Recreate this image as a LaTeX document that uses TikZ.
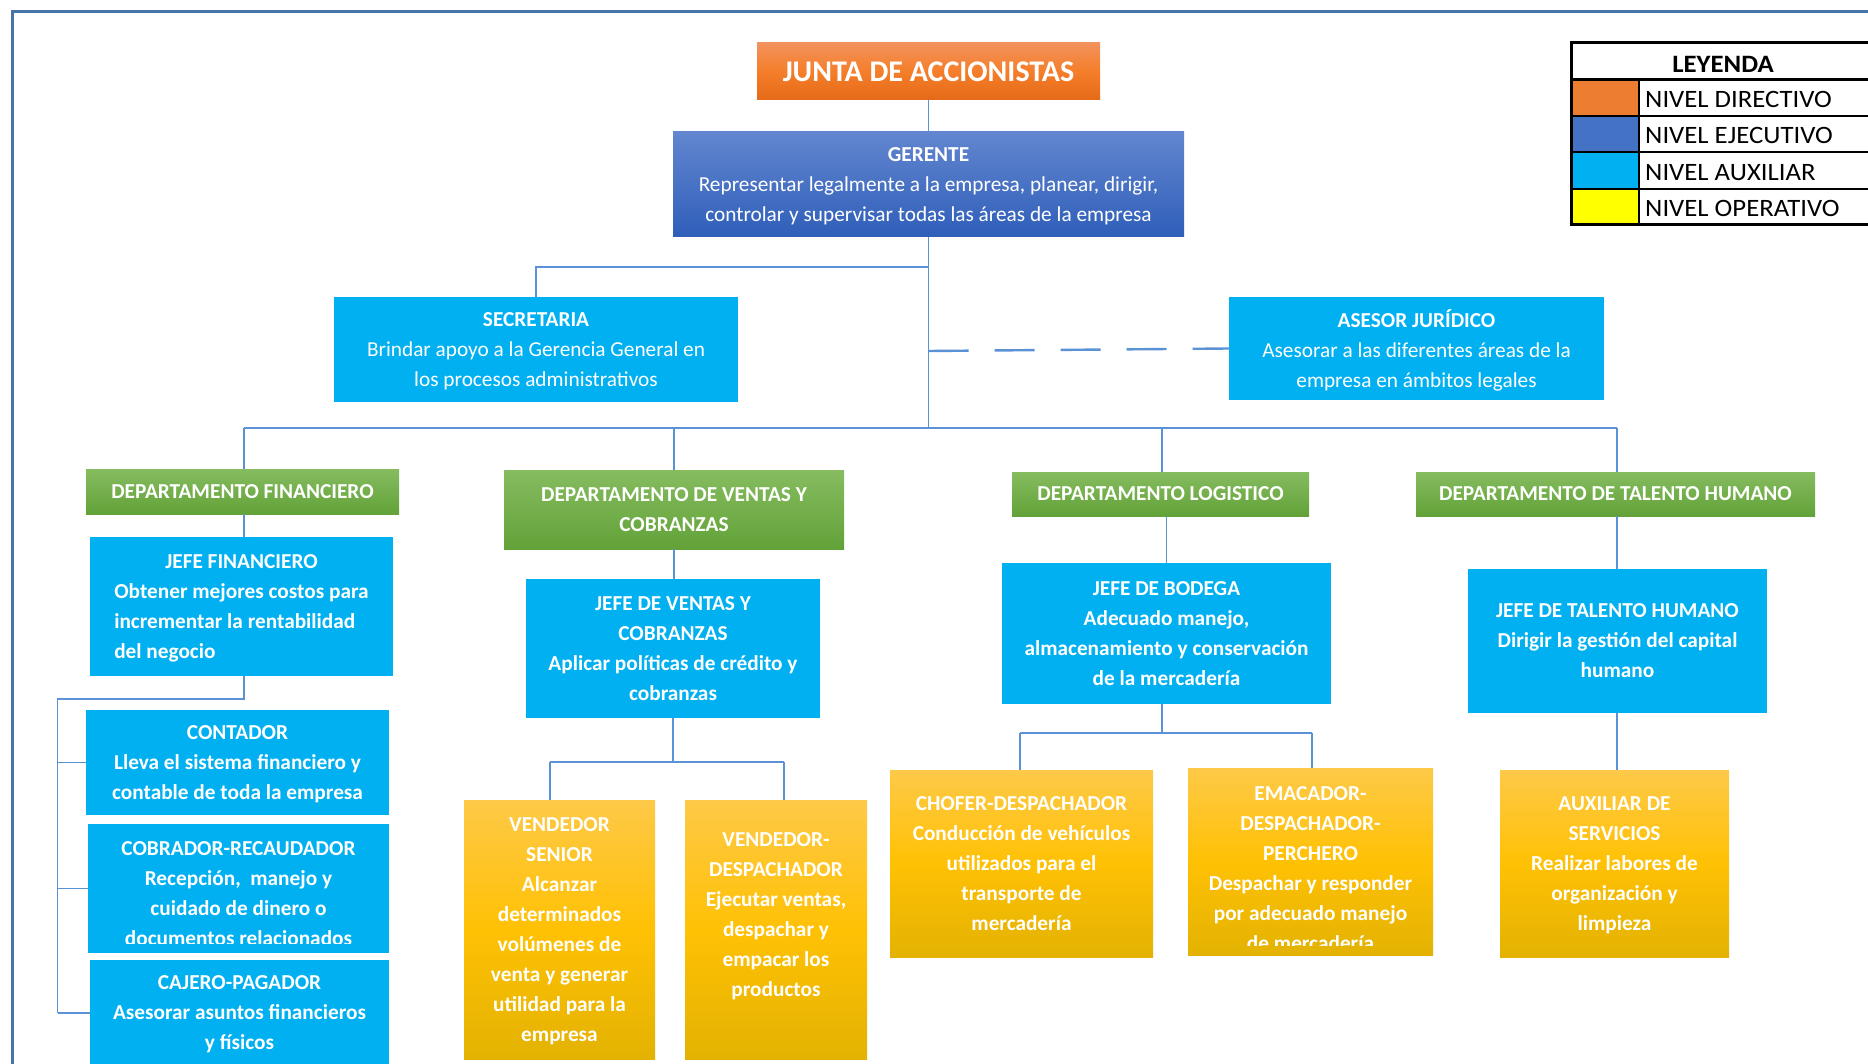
\documentclass[tikz,border=0pt]{standalone}
\usepackage{fontspec}
\setmainfont{Carlito}
\usetikzlibrary{calc}

% level colours
\definecolor{auxblue}{RGB}{0,176,240}
\definecolor{linkblue}{RGB}{91,146,214}
\definecolor{framecol}{RGB}{72,116,168}
\definecolor{orTop}{RGB}{242,146,92}
\definecolor{orMid}{RGB}{245,126,42}
\definecolor{orBot}{RGB}{228,106,24}
\definecolor{exTop}{RGB}{98,134,207}
\definecolor{exBot}{RGB}{47,94,185}
\definecolor{grTop}{RGB}{134,188,96}
\definecolor{grBot}{RGB}{98,162,56}
\definecolor{opTop}{RGB}{254,201,72}
\definecolor{opMid}{RGB}{255,193,4}
\definecolor{opBot}{RGB}{227,178,2}
\definecolor{legOrange}{RGB}{237,125,49}
\definecolor{legBlue}{RGB}{68,114,196}
\definecolor{legCyan}{RGB}{0,176,240}
\definecolor{legYellow}{RGB}{255,255,0}

\newcommand\fsbody{\fontsize{21.3}{30}\selectfont}
\newcommand\fslegend{\fontsize{25}{30}\selectfont}
\newcommand\legwide[1]{\scalebox{1.07}[1]{#1}}

\tikzset{
  box at/.style n args={4}{at={(#1,#2)}, minimum width={#3-#1}, minimum height={#4-#2}},
  orgbox/.style={anchor=north west, inner sep=0pt, outer sep=0pt, text=white,
                 align=center, text depth=0pt, font=\fsbody\bfseries},
  headbox/.style={orgbox, font=\fsbody},
  auxbox/.style={orgbox, fill=auxblue},
  deptbox/.style={orgbox, top color=grTop, bottom color=grBot},
  opbox/.style={orgbox, top color=opTop, bottom color=opBot, middle color=opMid},
  boxtext/.style={inner sep=0pt, text=white, align=center, font=\fsbody\bfseries},
  link/.style={draw=linkblue, line width=1.5pt},
  dashlink/.style={draw=linkblue, line width=2.4pt, dash pattern=on 40pt off 26pt},
  legtext/.style={anchor=west, inner sep=0pt, font=\fslegend},
}

\begin{document}
\begin{tikzpicture}[x=1pt,y=-1pt]
\useasboundingbox (0,0) rectangle (1868,1064);
\fill[white] (0,0) rectangle (1868,1064);

% page frame
\draw[framecol, line width=3pt] (1875,11.8) -- (12.5,11.8) -- (12.5,1075);

% ---- top levels
\node[orgbox, top color=orTop, bottom color=orBot, middle color=orMid,
      box at={757}{43}{1100}{100}, font=\fontsize{30}{36}\selectfont\bfseries]
      (junta) {JUNTA DE ACCIONISTAS};
\node[headbox, top color=exTop, bottom color=exBot, box at={673}{132}{1184}{237}] (gerente)
  {\textbf{GERENTE}\\Representar legalmente a la empresa, planear, dirigir,\\controlar y supervisar todas las áreas de la empresa};
\node[headbox, fill=auxblue, box at={334}{297}{738}{402}] (secretaria)
  {\textbf{SECRETARIA}\\Brindar apoyo a la Gerencia General en\\los procesos administrativos};
\node[headbox, fill=auxblue, box at={1229}{297}{1604}{400}] (asesor)
  {\textbf{ASESOR JURÍDICO}\\Asesorar a las diferentes áreas de la\\empresa en ámbitos legales};

% ---- departments
\node[deptbox, box at={86}{469}{399}{514}] (dfin) {DEPARTAMENTO FINANCIERO};
\node[deptbox, box at={504}{470}{844}{549}] (dventas) {DEPARTAMENTO DE VENTAS Y\\COBRANZAS};
\node[deptbox, box at={1012}{472}{1309}{516}] (dlog) {DEPARTAMENTO LOGISTICO};
\node[deptbox, box at={1416}{472}{1815}{516}] (dtal) {DEPARTAMENTO DE TALENTO HUMANO};

% ---- heads of department
\node[auxbox, text depth=60pt, box at={90}{537}{393}{676}] (jfin)
  {JEFE FINANCIERO\\\begin{tabular}[t]{@{}l@{}}Obtener mejores costos para\\incrementar la rentabilidad\\del negocio\end{tabular}};
\node[auxbox, box at={526}{579}{820}{718}] (jventas)
  {JEFE DE VENTAS Y\\COBRANZAS\\Aplicar políticas de crédito y\\cobranzas};
\node[auxbox, box at={1002}{563}{1331}{704}] (jbod)
  {JEFE DE BODEGA\\Adecuado manejo,\\almacenamiento y conservación\\de la mercadería};
\node[auxbox, box at={1468}{569}{1767}{713}] (jtal)
  {JEFE DE TALENTO HUMANO\\Dirigir la gestión del capital\\humano};

% ---- finance staff
\node[auxbox, box at={86}{710}{389}{815}] (contador)
  {CONTADOR\\Lleva el sistema financiero y\\contable de toda la empresa};
\node[auxbox, box at={88}{824}{389}{953}] (cobrador) {};
\begin{scope}
  \clip (cobrador.north west) rectangle ([yshift=9.5pt]cobrador.south east);
  \node[boxtext] (cobradortxt) at ([yshift=-5.5pt]cobrador.center)
    {COBRADOR-RECAUDADOR\\Recepción,~ manejo y\\cuidado de dinero o\\documentos relacionados};
\end{scope}
\node[auxbox, box at={90}{960}{389}{1066}] (cajero)
  {CAJERO-PAGADOR\\Asesorar asuntos financieros\\y físicos};

% ---- operative staff
\node[opbox, box at={464}{800}{655}{1059}] (vsenior)
  {VENDEDOR\\SENIOR\\Alcanzar\\determinados\\volúmenes de\\venta y generar\\utilidad para la\\empresa};
\node[opbox, box at={685}{800}{867}{1059}] (vdesp) {};
\node[boxtext] (vdesptxt) at ([yshift=13.5pt]vdesp.center)
  {VENDEDOR-\\DESPACHADOR\\Ejecutar ventas,\\despachar y\\empacar los\\productos};
\node[opbox, box at={890}{770}{1153}{957}] (chofer)
  {CHOFER-DESPACHADOR\\Conducción de vehículos\\utilizados para el\\transporte de\\mercadería};
\node[opbox, box at={1188}{768}{1433}{955}] (emacador) {};
\begin{scope}
  \clip (emacador.north west) rectangle ([yshift=9.7pt]emacador.south east);
  \node[boxtext] (emacadortxt) at ([yshift=-7pt]emacador.center)
    {EMACADOR-\\DESPACHADOR-\\PERCHERO\\Despachar y responder\\por adecuado manejo\\de mercadería};
\end{scope}
\node[opbox, box at={1500}{770}{1729}{957}] (auxserv)
  {AUXILIAR DE\\SERVICIOS\\Realizar labores de\\organización y\\limpieza};

% ---- connectors
\coordinate (secK) at (928.5,267);
\coordinate (aseK) at (928.5,351);
\coordinate (busL) at (244,428);
\coordinate (busR) at (1617,428);
\coordinate (finK) at (244,699);
\coordinate (finL) at (57.5,699);
\coordinate (venK) at (672,762);
\coordinate (venL) at (550,762);
\coordinate (venR) at (784,762);
\coordinate (logK) at (1162,733);
\coordinate (logL) at (1020,733);
\coordinate (logR) at (1312,733);

\draw[link] (junta) -- (gerente);
\draw[link] (gerente.south) -- (gerente.south |- busL);
\draw[link] (secK) -| (secretaria.north);
\draw[dashlink] (aseK) -- (asesor.west);
\draw[link] (busL) -- (busR);
\draw[link] (busL) -- (busL |- dfin.north);
\draw[link] (dventas.north) -- (dventas.north |- busL);
\draw[link] (logK |- busL) -- (logK |- dlog.north);
\draw[link] (busR) -- (busR |- dtal.north);

% finance branch
\draw[link] (busL |- dfin.south) -- (busL |- jfin.north);
\draw[link] (busL |- jfin.south) -- (finK) -- (finL) -- (finL |- cajero.west);
\draw[link] (finL |- contador.west) -- (contador.west);
\draw[link] (finL |- cobrador.west) -- (cobrador.west);
\draw[link] (finL |- cajero.west) -- (cajero.west);

% sales branch
\draw[link] (dventas.south) -- (dventas.south |- jventas.north);
\draw[link] (jventas.south) -- (jventas.south |- venK);
\draw[link] (venL) -- (venR);
\draw[link] (venL) -- (venL |- vsenior.north);
\draw[link] (venR) -- (venR |- vdesp.north);

% logistics branch
\draw[link] (jbod.north |- dlog.south) -- (jbod.north);
\draw[link] (logK |- jbod.south) -- (logK);
\draw[link] (logL) -- (logR);
\draw[link] (logL) -- (logL |- chofer.north);
\draw[link] (logR) -- (logR |- emacador.north);

% human resources branch
\draw[link] (busR |- dtal.south) -- (busR |- jtal.north);
\draw[link] (busR |- jtal.south) -- (busR |- auxserv.north);

% ---- legend
\fill[legOrange] (1571,80) rectangle (1639,116);
\fill[legBlue] (1571,116) rectangle (1639,152.5);
\fill[legCyan] (1571,152.5) rectangle (1639,189);
\fill[legYellow] (1571,189) rectangle (1639,225);
\draw[black, line width=2pt] (1571,116) -- (1880,116);
\draw[black, line width=2pt] (1571,152.5) -- (1880,152.5);
\draw[black, line width=2pt] (1571,189) -- (1880,189);
\draw[black, line width=2pt] (1639,80) -- (1639,225);
\draw[black, line width=3pt] (1571,80) -- (1880,80);
\draw[black, line width=3pt] (1880,43) -- (1571,43) -- (1571,225) -- (1880,225);
\node[font=\fslegend\bfseries, inner sep=0pt] (leyenda) at (1723,64.5) {\legwide{LEYENDA}};
\node[legtext] (nivdir) at (1645,99.5) {\legwide{NIVEL DIRECTIVO}};
\node[legtext] (niveje) at (1645,135.5) {\legwide{NIVEL EJECUTIVO}};
\node[legtext] (nivaux) at (1645,172.2) {\legwide{NIVEL AUXILIAR}};
\node[legtext] (nivope) at (1645,208.9) {\legwide{NIVEL OPERATIVO}};
\end{tikzpicture}
\end{document}
